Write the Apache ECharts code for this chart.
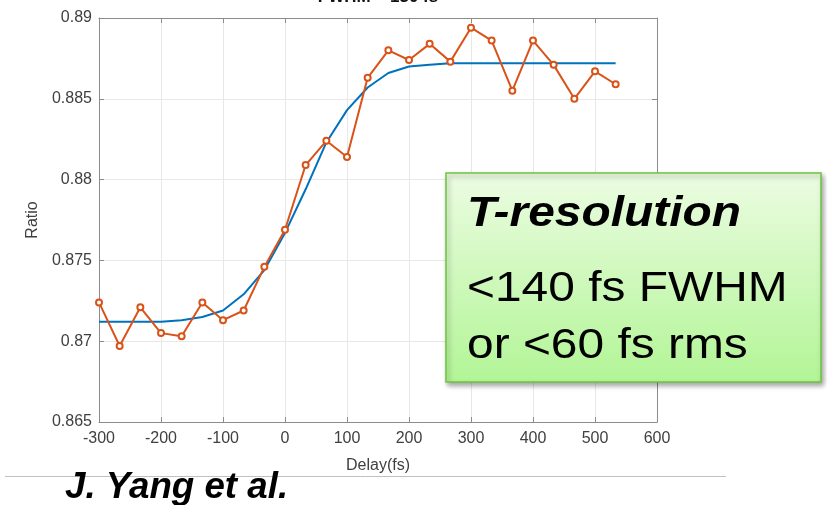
<!DOCTYPE html>
<html>
<head>
<meta charset="utf-8">
<title>Delay ratio</title>
<script src="https://cdn.jsdelivr.net/npm/echarts@6/dist/echarts.min.js"></script>
<style>
  html, body { margin: 0; padding: 0; background: #fff; }
  #chart { width: 827px; height: 505px; }
</style>
</head>
<body>
<div id="chart"></div>
<script>
// delay points (fs)
var delays = [-300, -266.7, -233.3, -200, -166.7, -133.3, -100, -66.7, -33.3, 0,
  33.3, 66.7, 100, 133.3, 166.7, 200, 233.3, 266.7, 300, 333.3, 366.7, 400, 433.3, 466.7, 500, 533.3];
// measured ratio
var measured = [0.8724, 0.8697, 0.8721, 0.8705, 0.8703, 0.8724, 0.8713, 0.8719, 0.8746, 0.8769,
  0.8809, 0.8824, 0.8814, 0.8863, 0.8880, 0.8874, 0.8884, 0.8873, 0.8894, 0.8886, 0.8855, 0.8886, 0.8871, 0.8850, 0.8867, 0.8859];
// fitted curve
var fitted = [0.8712, 0.8712, 0.8712, 0.8712, 0.8713, 0.8715, 0.8719, 0.8729, 0.8744, 0.8767,
  0.8794, 0.8823, 0.8843, 0.8857, 0.8866, 0.8870, 0.8871, 0.8872, 0.8872, 0.8872, 0.8872, 0.8872, 0.8872, 0.8872, 0.8872, 0.8872];
var xTicks = [-300, 600, 100];
var yTicks = [0.865, 0.89, 0.005];

var font = 'Liberation Sans, Arial, sans-serif';
var axisGrey = '#8c8c8c';

function pairs(xs, ys) {
  return xs.map(function (x, i) { return [x, ys[i]]; });
}

var chart = echarts.init(document.getElementById('chart'));

var xBase = {
  type: 'value',
  min: xTicks[0],
  max: xTicks[1],
  interval: xTicks[2],
  axisLine: { show: true, onZero: false, lineStyle: { color: axisGrey, width: 1 } },
  axisTick: { show: true, inside: true, length: 5, lineStyle: { color: axisGrey } }
};
var yBase = {
  type: 'value',
  min: yTicks[0],
  max: yTicks[1],
  interval: yTicks[2],
  axisLine: { show: true, onZero: false, lineStyle: { color: axisGrey, width: 1 } },
  axisTick: { show: true, inside: true, length: 5, lineStyle: { color: axisGrey } }
};

chart.setOption({
  animation: false,
  textStyle: { fontFamily: font },
  grid: { left: 99, right: 170, top: 18, bottom: 83 },
  xAxis: [
    Object.assign({}, xBase, {
      position: 'bottom',
      name: 'Delay(fs)',
      nameLocation: 'middle',
      nameGap: 36,
      nameTextStyle: { color: '#404040', fontSize: 16, fontFamily: font },
      axisLabel: { color: '#404040', fontSize: 16, margin: 9, fontFamily: font },
      splitLine: { show: true, lineStyle: { color: '#e8e8e8', width: 1 } }
    }),
    Object.assign({}, xBase, {
      position: 'top',
      axisLabel: { show: false },
      splitLine: { show: false }
    })
  ],
  yAxis: [
    Object.assign({}, yBase, {
      position: 'left',
      name: 'Ratio',
      nameLocation: 'middle',
      nameGap: 58,
      nameRotate: 90,
      nameTextStyle: { color: '#404040', fontSize: 16, fontFamily: font },
      axisLabel: {
        color: '#404040', fontSize: 16, margin: 7, fontFamily: font,
        formatter: function (v) { return String(+v.toFixed(3)); }
      },
      splitLine: { show: true, lineStyle: { color: '#e8e8e8', width: 1 } }
    }),
    Object.assign({}, yBase, {
      position: 'right',
      axisLabel: { show: false },
      splitLine: { show: false }
    })
  ],
  series: [
    {
      name: 'fit',
      type: 'line',
      data: pairs(delays, fitted),
      showSymbol: false,
      symbol: 'none',
      lineStyle: { color: '#0072BD', width: 2 },
      z: 2
    },
    {
      name: 'data',
      type: 'line',
      data: pairs(delays, measured),
      symbol: 'emptyCircle',
      symbolSize: 6,
      itemStyle: { color: '#D95319', borderColor: '#D95319', borderWidth: 1.5 },
      lineStyle: { color: '#D95319', width: 2 },
      z: 3
    }
  ],
  graphic: [
    {
      type: 'text',
      x: 378,
      y: 6,
      style: { text: 'FWHM = 130 fs', font: 'bold 17px ' + font, fill: '#111', align: 'center', verticalAlign: 'bottom' }
    },
    {
      type: 'rect',
      z: 100,
      shape: { x: 446, y: 173, width: 375, height: 209 },
      style: {
        fill: new echarts.graphic.LinearGradient(0, 0, 0, 1, [
          { offset: 0, color: '#ecfce2' },
          { offset: 1, color: '#b2f596' }
        ]),
        stroke: '#6cc53f',
        lineWidth: 1.5,
        shadowBlur: 5,
        shadowOffsetX: 2,
        shadowOffsetY: 3,
        shadowColor: 'rgba(0,0,0,0.35)'
      }
    },
    {
      type: 'text', z: 101, x: 467, y: 214, scaleX: 1.14,
      style: { text: 'T-resolution', font: 'italic bold 42px ' + font, fill: '#000', align: 'left', verticalAlign: 'middle' }
    },
    {
      type: 'text', z: 101, x: 467, y: 289, scaleX: 1.14,
      style: { text: '<140 fs FWHM', font: '42px ' + font, fill: '#000', align: 'left', verticalAlign: 'middle' }
    },
    {
      type: 'text', z: 101, x: 467, y: 346, scaleX: 1.14,
      style: { text: 'or <60 fs rms', font: '42px ' + font, fill: '#000', align: 'left', verticalAlign: 'middle' }
    },
    {
      type: 'line',
      shape: { x1: 5, y1: 476.5, x2: 726, y2: 476.5 },
      style: { stroke: '#c0c0c0', lineWidth: 1 }
    },
    {
      type: 'text', x: 65, y: 488, scaleX: 1.02,
      style: { text: 'J. Yang et al.', font: 'italic bold 36px ' + font, fill: '#000', align: 'left', verticalAlign: 'middle' }
    }
  ]
});
</script>
</body>
</html>
